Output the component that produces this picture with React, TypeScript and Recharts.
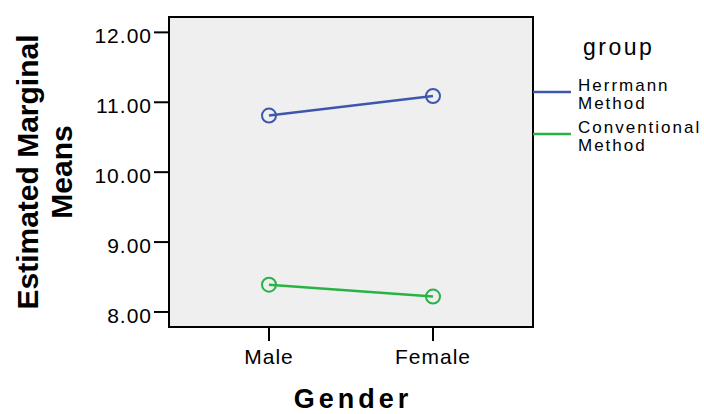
import { LineChart, Line, XAxis, YAxis, CartesianGrid, Legend } from "recharts";

const genders = ["Male", "Female"];
const herrmannMeans = [10.81, 11.09];
const conventionalMeans = [8.39, 8.22];
const yTicks = [8, 9, 10, 11, 12];
const groupNames = ["Herrmann Method", "Conventional Method"];

const data = genders.map((gender, i) => ({
  gender,
  herrmann: herrmannMeans[i],
  conventional: conventionalMeans[i],
}));

const FONT = '"Liberation Sans", Arial, sans-serif';
const BLUE = "#3d57ad";
const GREEN = "#27b445";

function YLabel({ viewBox }: any) {
  const { x, y, height } = viewBox;
  const cy = y + height / 2;
  return (
    <text
      transform={`translate(${x + 38}, ${cy}) rotate(-90)`}
      textAnchor="middle"
      fontSize={30}
      fontWeight="bold"
      fontFamily={FONT}
      fill="#000"
    >
      <tspan x={0} y={0}>Estimated Marginal</tspan>
      <tspan x={0} y={34}>Means</tspan>
    </text>
  );
}

function XLabel({ viewBox }: any) {
  const { x, y, width, height } = viewBox;
  return (
    <text
      x={x + width / 2 + 2}
      y={y + height - 6}
      textAnchor="middle"
      fontSize={27}
      fontWeight="bold"
      letterSpacing={4}
      fontFamily={FONT}
      fill="#000"
    >
      Gender
    </text>
  );
}

function GroupLegend({ payload }: any) {
  const items = [...(payload ?? [])].sort(
    (a: any, b: any) => groupNames.indexOf(a.value) - groupNames.indexOf(b.value)
  );
  return (
    <svg width={171} height={150} style={{ display: "block" }}>
      <text x={50} y={35} fontSize={23} letterSpacing={2.5} fontFamily={FONT} fill="#000">
        group
      </text>
      {items.map((item: any, i: number) => {
        const ly = 72 + i * 42;
        const name = String(item.value);
        const cut = name.lastIndexOf(" ");
        return (
          <g key={name}>
            <line x1={0} x2={38} y1={ly} y2={ly} stroke={item.color} strokeWidth={2.5} />
            <text fontSize={17} letterSpacing={2} fontFamily={FONT} fill="#000">
              <tspan x={45} y={ly - 1}>{name.slice(0, cut)}</tspan>
              <tspan x={45} y={ly + 16.6}>{name.slice(cut + 1)}</tspan>
            </text>
          </g>
        );
      })}
    </svg>
  );
}

export default function App() {
  const axisStroke = { stroke: "#000", strokeWidth: 2, strokeLinecap: "square" as const };
  return (
    <div style={{ position: "absolute", left: 0, top: 0, width: 704, height: 414, background: "#fff" }}>
      <LineChart
        width={704}
        height={414}
        data={data}
        margin={{ top: 16, right: 170, bottom: 0, left: 0 }}
        style={{ fontFamily: FONT }}
      >
        <CartesianGrid fill="#efefef" horizontal={false} vertical={false} />
        <XAxis
          dataKey="gender"
          height={87}
          padding={{ left: 100, right: 100 }}
          axisLine={axisStroke}
          tickLine={{ stroke: "#000", strokeWidth: 2 }}
          tickSize={14}
          tickMargin={8}
          tick={{ fill: "#000", fontSize: 21, letterSpacing: 1 }}
          label={{ content: <XLabel /> }}
        />
        <XAxis
          xAxisId="top"
          dataKey="gender"
          orientation="top"
          height={1}
          padding={{ left: 100, right: 100 }}
          axisLine={axisStroke}
          tick={false}
          tickLine={false}
        />
        <YAxis
          width={169}
          domain={[7.785, 12.22]}
          ticks={yTicks}
          interval={0}
          tickFormatter={(v: number) => v.toFixed(2)}
          axisLine={axisStroke}
          tickLine={{ stroke: "#000", strokeWidth: 2 }}
          tickSize={15}
          tick={{ fill: "#000", fontSize: 21, letterSpacing: 1, dy: 3.5 }}
          label={{ content: <YLabel /> }}
        />
        <YAxis
          yAxisId="right"
          orientation="right"
          width={1}
          type="number"
          domain={[7.785, 12.22]}
          axisLine={axisStroke}
          tick={false}
          tickLine={false}
        />
        <Legend
          layout="horizontal"
          align="center"
          verticalAlign="middle"
          itemSorter={null}
          wrapperStyle={{ left: 533, top: 20, width: 171, height: 150 }}
          content={<GroupLegend />}
        />
        <Line
          dataKey="herrmann"
          name={groupNames[0]}
          stroke={BLUE}
          strokeWidth={2.5}
          dot={{ r: 7, fill: "none", stroke: BLUE, strokeWidth: 2 }}
          activeDot={false}
          isAnimationActive={false}
        />
        <Line
          dataKey="conventional"
          name={groupNames[1]}
          stroke={GREEN}
          strokeWidth={2.5}
          dot={{ r: 7, fill: "none", stroke: GREEN, strokeWidth: 2 }}
          activeDot={false}
          isAnimationActive={false}
        />
      </LineChart>
    </div>
  );
}
